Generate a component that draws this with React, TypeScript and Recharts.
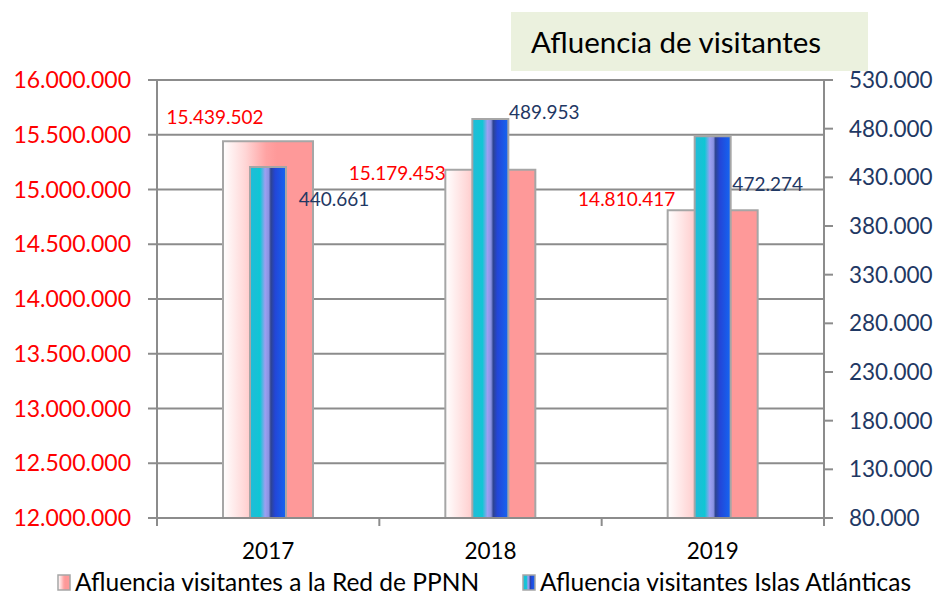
import { BarChart, Bar, XAxis, YAxis, CartesianGrid, LabelList } from "recharts";

const FONT = "Lato, 'Open Sans', sans-serif";

// Visitors per year
const years = ["2017", "2018", "2019"];
const redPPNN = [15439502, 15179453, 14810417];
const islasAtlanticas = [440661, 489953, 472274];

const leftTicks = [12000000, 12500000, 13000000, 13500000, 14000000, 14500000, 15000000, 15500000, 16000000];
const rightTicks = [80000, 130000, 180000, 230000, 280000, 330000, 380000, 430000, 480000, 530000];

const data = years.map((y, i) => ({ year: y, ppnn: redPPNN[i], islas: islasAtlanticas[i] }));

const W = 939;
const H = 595;
const M = { top: 80, right: 0, bottom: 0, left: 0 };
const LEFT_W = 157;
const RIGHT_W = 115;
const PLOT_W = W - LEFT_W - RIGHT_W;

const GRID = "#8c8c8c";
const RED = "#ff0000";
const NAVY = "#1f3864";

// label placement (relative to bar centre / top), per year
const ppnnLabelOff = [{ dx: -53, dy: -25 }, { dx: -93, dy: 3 }, { dx: -86, dy: -12 }];
const islasLabelOff = [{ dx: 66, dy: 32 }, { dx: 54, dy: -7 }, { dx: 55, dy: 47 }];

const fmt = (v: number) => String(v).replace(/\B(?=(\d{3})+(?!\d))/g, ".");

const makeLabel = (offs: { dx: number; dy: number }[], color: string) => (p: any) => {
  const { x, y, width, index, value } = p;
  const o = offs[index] || { dx: 0, dy: 0 };
  return (
    <text x={x + width / 2 + o.dx} y={y + o.dy} textAnchor="middle" dominantBaseline="central"
      fill={color} fontSize={19} fontFamily={FONT}>
      {fmt(value)}
    </text>
  );
};

const YearTick = (p: any) => {
  const { x, y, payload, index } = p;
  const half = PLOT_W / years.length / 2;
  const axisY = y - 25;
  return (
    <g>
      <line x1={x - half} x2={x - half} y1={axisY} y2={axisY + 8} stroke={GRID} strokeWidth={2} />
      {index === years.length - 1 && (
        <line x1={x + half} x2={x + half} y1={axisY} y2={axisY + 8} stroke={GRID} strokeWidth={2} />
      )}
      <text x={x} y={y} dy="0.71em" textAnchor="middle" fill="#000" fontSize={22.5} fontFamily={FONT}>
        {payload.value}
      </text>
    </g>
  );
};

const PinkStops = () => (
  <>
    <stop offset="0%" stopColor="#ffffff" />
    <stop offset="25%" stopColor="#ffd6d6" />
    <stop offset="48%" stopColor="#ffa3a3" />
    <stop offset="60%" stopColor="#fe9999" />
    <stop offset="100%" stopColor="#fe9999" />
  </>
);

const BlueStops = () => (
  <>
    <stop offset="0%" stopColor="#22bbd8" />
    <stop offset="28%" stopColor="#10c6d4" />
    <stop offset="42%" stopColor="#9ca0f2" />
    <stop offset="52%" stopColor="#8a92e2" />
    <stop offset="58%" stopColor="#2e4390" />
    <stop offset="70%" stopColor="#2346d8" />
    <stop offset="100%" stopColor="#1466f2" />
  </>
);

const LegendItem = ({ left, grad, stops, text }: any) => (
  <div style={{ display: "flex", alignItems: "center", position: "absolute", left, top: 0 }}>
    <svg width={14} height={17} style={{ marginRight: 4 }}>
      <defs>
        <linearGradient id={grad} x1="0" y1="0" x2="1" y2="0">{stops}</linearGradient>
      </defs>
      <rect x={1} y={1} width={12} height={15} fill={`url(#${grad})`} stroke="#a6a6a6" strokeWidth={1.5} />
    </svg>
    <span>{text}</span>
  </div>
);

export default function App() {
  return (
    <div style={{ position: "absolute", left: 0, top: 0, width: W, height: H, background: "#fff" }}>
      <div style={{
        position: "absolute", left: 511, top: 12, width: 357, height: 59, background: "#ebf1de",
        fontFamily: FONT, fontSize: 29.5, color: "#000", display: "flex", alignItems: "center",
        paddingLeft: 20, boxSizing: "border-box",
      }}>
        Afluencia de visitantes
      </div>
      <BarChart width={W} height={H} data={data} margin={M} barGap={0}>
        <defs>
          <linearGradient id="gPink" x1="0" y1="0" x2="1" y2="0"><PinkStops /></linearGradient>
          <linearGradient id="gBlue" x1="0" y1="0" x2="1" y2="0"><BlueStops /></linearGradient>
        </defs>
        <CartesianGrid yAxisId="left" xAxisId="main" vertical={false} stroke={GRID} strokeWidth={2} />
        <XAxis xAxisId="main" dataKey="year" height={77} axisLine={{ stroke: GRID, strokeWidth: 2 }}
          tickLine={false} tickSize={8} tickMargin={17} tick={<YearTick />} interval={0} />
        <XAxis xAxisId="over" dataKey="year" hide />
        <YAxis yAxisId="left" orientation="left" width={LEFT_W} domain={[12000000, 16000000]}
          ticks={leftTicks} interval={0} tickFormatter={fmt} axisLine={{ stroke: GRID, strokeWidth: 2 }}
          tickLine={{ stroke: GRID, strokeWidth: 2 }} tickSize={9} tickMargin={17}
          tick={{ fill: RED, fontSize: 23, fontFamily: FONT }} />
        <YAxis yAxisId="right" orientation="right" width={RIGHT_W} domain={[80000, 530000]}
          ticks={rightTicks} interval={0} tickFormatter={fmt} axisLine={{ stroke: GRID, strokeWidth: 2 }}
          tickLine={{ stroke: GRID, strokeWidth: 2 }} tickSize={9} tickMargin={16}
          tick={{ fill: NAVY, fontSize: 22.5, fontFamily: FONT }} />
        <Bar xAxisId="main" yAxisId="left" dataKey="ppnn" name="Afluencia visitantes a la Red de PPNN"
          barSize={90} fill="url(#gPink)" stroke="#a6a6a6" strokeWidth={2} isAnimationActive={false}>
          <LabelList dataKey="ppnn" content={makeLabel(ppnnLabelOff, RED)} />
        </Bar>
        <Bar xAxisId="over" yAxisId="right" dataKey="islas" name="Afluencia visitantes Islas Atlánticas"
          barSize={36} fill="url(#gBlue)" stroke="#a6a6a6" strokeWidth={2} isAnimationActive={false}>
          <LabelList dataKey="islas" content={makeLabel(islasLabelOff, NAVY)} />
        </Bar>
      </BarChart>
      <div style={{ position: "absolute", left: 0, top: 570, width: W, height: 24, fontFamily: FONT, fontSize: 24.5, color: "#000", lineHeight: "24px" }}>
        <LegendItem left={57} grad="lgPink" stops={<PinkStops />} text="Afluencia visitantes a la Red de PPNN" />
        <LegendItem left={522} grad="lgBlue" stops={<BlueStops />} text="Afluencia visitantes Islas Atlánticas" />
      </div>
    </div>
  );
}
